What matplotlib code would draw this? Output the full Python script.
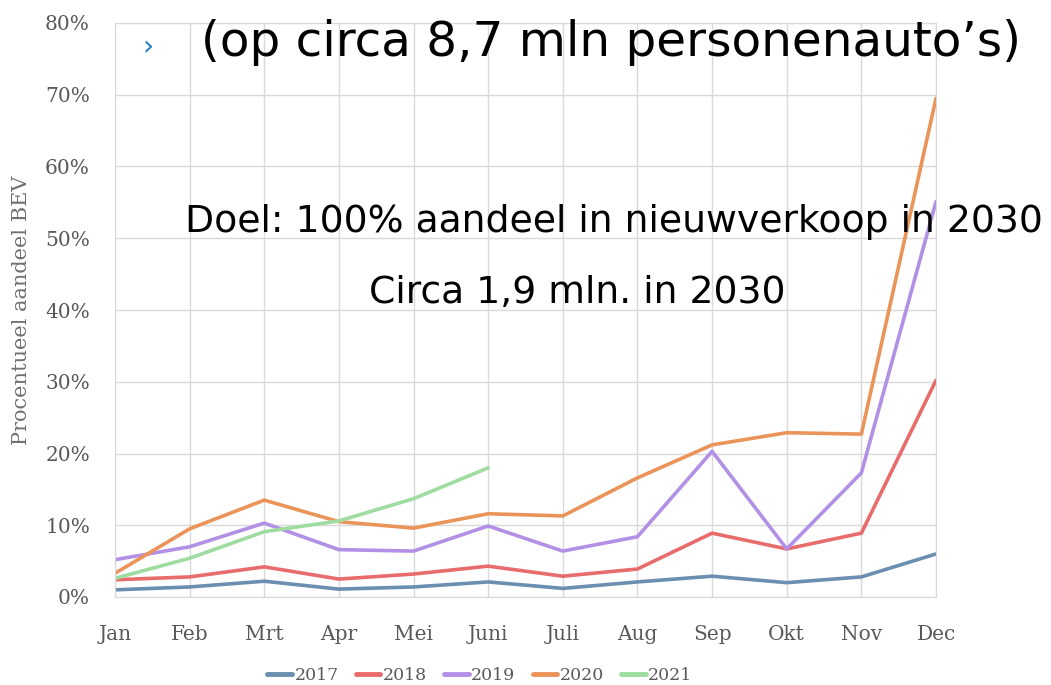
import matplotlib
matplotlib.use("Agg")
import matplotlib.pyplot as plt

months = ["Jan", "Feb", "Mrt", "Apr", "Mei", "Juni", "Juli", "Aug", "Sep", "Okt", "Nov", "Dec"]
y2017 = [1.0, 1.4, 2.2, 1.1, 1.4, 2.1, 1.2, 2.1, 2.9, 2.0, 2.8, 6.0]
y2018 = [2.4, 2.8, 4.2, 2.5, 3.2, 4.3, 2.9, 3.9, 8.9, 6.7, 8.9, 30.2]
y2019 = [5.2, 7.0, 10.3, 6.6, 6.4, 9.9, 6.4, 8.4, 20.3, 6.7, 17.3, 55.1]
y2020 = [3.3, 9.5, 13.5, 10.5, 9.6, 11.6, 11.3, 16.6, 21.2, 22.9, 22.7, 69.5]
y2021 = [2.6, 5.4, 9.1, 10.6, 13.7, 18.0]
yticks = [0, 10, 20, 30, 40, 50, 60, 70, 80]

series = [("2017", y2017, "#6b8fb0"), ("2018", y2018, "#e96c6c"),
          ("2019", y2019, "#b290e6"), ("2020", y2020, "#eb9459"),
          ("2021", y2021, "#9fdc9f")]

fig = plt.figure(figsize=(10.51, 6.85), dpi=100)
ax = fig.add_axes([115/1051, 1-597/685, (936-115)/1051, (597-23)/685])
x = list(range(len(months)))
for name, vals, col in series:
    ax.plot(x[:len(vals)], vals, color=col, lw=2.6, label=name, solid_capstyle="round")

ax.set_xlim(0, 11)
ax.set_ylim(0, 80)
ax.set_xticks(x)
ax.set_xticklabels(months)
ax.set_yticks(yticks)
ax.set_yticklabels([f"{v}%" for v in yticks])
ax.grid(True, color="#d9d9d9", lw=1)
ax.set_axisbelow(True)
for s in ax.spines.values():
    s.set_color("#d9d9d9")
ax.tick_params(length=0, colors="#595959", labelsize=14.5)
ax.tick_params(axis="y", pad=18)
ax.tick_params(axis="x", pad=20)
for lbl in ax.get_xticklabels() + ax.get_yticklabels():
    lbl.set_family("DejaVu Serif")
ax.set_ylabel("Procentueel aandeel BEV", family="DejaVu Serif", color="#707070",
              fontsize=15, labelpad=10)

leg = fig.legend(loc="center", bbox_to_anchor=(480/1051, 1-676/685),
                 ncol=5, frameon=False, handlelength=1.4, handletextpad=0.15, columnspacing=1.0,
                 prop={"family": "DejaVu Serif", "size": 12.5})
for t in leg.get_texts():
    t.set_color("#595959")
for h in leg.get_lines():
    h.set_linewidth(3.5)

fig.text(148/1051, 1-47/685, "›", color="#1f7fc8", fontsize=20, ha="center", va="center")
fig.text(611/1051, 1-43/685, "(op circa 8,7 mln personenauto’s)", fontsize=34.9,
         ha="center", va="center", color="black")
fig.text(614/1051, 1-222/685, "Doel: 100% aandeel in nieuwverkoop in 2030", fontsize=27.2,
         ha="center", va="center", color="black")
fig.text(577/1051, 1-293/685, "Circa 1,9 mln. in 2030", fontsize=27.2,
         ha="center", va="center", color="black")

fig.savefig("out.png", dpi=100)
